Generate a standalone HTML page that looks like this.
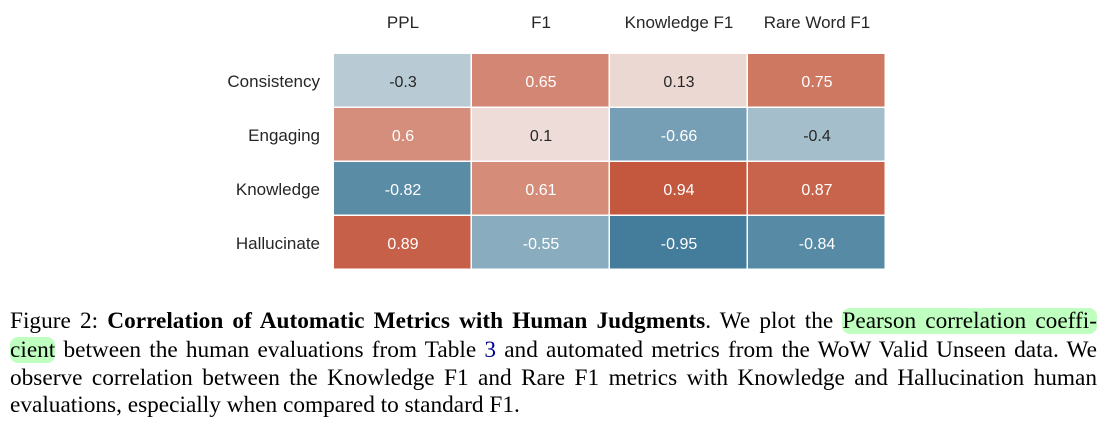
<!DOCTYPE html>
<html><head><meta charset="utf-8"><style>
body{margin:0;width:1107px;height:425px;background:#fff;overflow:hidden;position:relative}
.cap{position:absolute;left:10px;width:1087px;font-family:"Liberation Serif",serif;font-size:23.3px;color:#000;text-align:justify;text-align-last:justify;white-space:nowrap;line-height:28px}
.hl{background:#bfffbf;border-radius:8px}
</style></head><body>
<svg id="chart" width="1107" height="290" style="position:absolute;left:0;top:0" font-family="Liberation Sans, sans-serif"></svg>
<div class="cap" style="top:307px">Figure 2: <b>Correlation of Automatic Metrics with Human Judgments</b>. We plot the <span class="hl">Pearson correlation coeffi-</span></div>
<div class="cap" style="top:336px"><span class="hl">cient</span> between the human evaluations from Table <span style="color:#00008b">3</span> and automated metrics from the WoW Valid Unseen data. We</div>
<div class="cap" style="top:364px">observe correlation between the Knowledge F1 and Rare F1 metrics with Knowledge and Hallucination human</div>
<div class="cap" style="top:391px;text-align-last:left">evaluations, especially when compared to standard F1.</div>
<script>
const columns=["PPL","F1","Knowledge F1","Rare Word F1"];
const rows=["Consistency","Engaging","Knowledge","Hallucinate"];
const rowConsistency=[-0.3,0.65,0.13,0.75];
const rowEngaging=[0.6,0.1,-0.66,-0.4];
const rowKnowledge=[-0.82,0.61,0.94,0.87];
const rowHallucinate=[0.89,-0.55,-0.95,-0.84];
const values=[rowConsistency,rowEngaging,rowKnowledge,rowHallucinate];
const svg=document.getElementById('chart');
const NS='http://www.w3.org/2000/svg';
const x0=334,x1=886,y0=54,y1=270;
const cw=(x1-x0)/columns.length, ch=(y1-y0)/rows.length;
const xs=i=>x0+i*cw, ys=j=>y0+j*ch;
const stops=[[-1,[59,118,150]],[-0.5,[146,179,195]],[0,[242,236,234]],[0.5,[218,158,142]],[1,[193,79,52]]];
function color(v){for(let k=0;k<stops.length-1;k++){const [a,ca]=stops[k],[b,cb]=stops[k+1];if(v<=b){const t=(v-a)/(b-a);return 'rgb('+ca.map((c,i)=>Math.round(c+(cb[i]-c)*t)).join(',')+')';}}return 'rgb(193,79,52)';}
function mk(tag,attrs){const e=document.createElementNS(NS,tag);for(const k in attrs)e.setAttribute(k,attrs[k]);svg.appendChild(e);return e;}
values.forEach((row,j)=>row.forEach((v,i)=>{
 const r=mk('rect',{x:xs(i),y:ys(j),width:cw-1.5,height:ch-1.5,fill:color(v)});
 
 
 const t=mk('text',{x:xs(i)+cw/2,y:ys(j)+ch/2+6,'text-anchor':'middle','font-size':16,fill:Math.abs(v)>0.5?'#fff':'#262626'});
 t.textContent=String(v);
 
 
}));
columns.forEach((c,i)=>{const t=mk('text',{x:xs(i)+cw/2,y:28,'text-anchor':'middle','font-size':17,fill:'#262626'});t.textContent=c;
 
 });
rows.forEach((r,j)=>{const t=mk('text',{x:320,y:ys(j)+ch/2+6,'text-anchor':'end','font-size':17,fill:'#262626'});t.textContent=r;
 
 });
</script>
</body></html>
